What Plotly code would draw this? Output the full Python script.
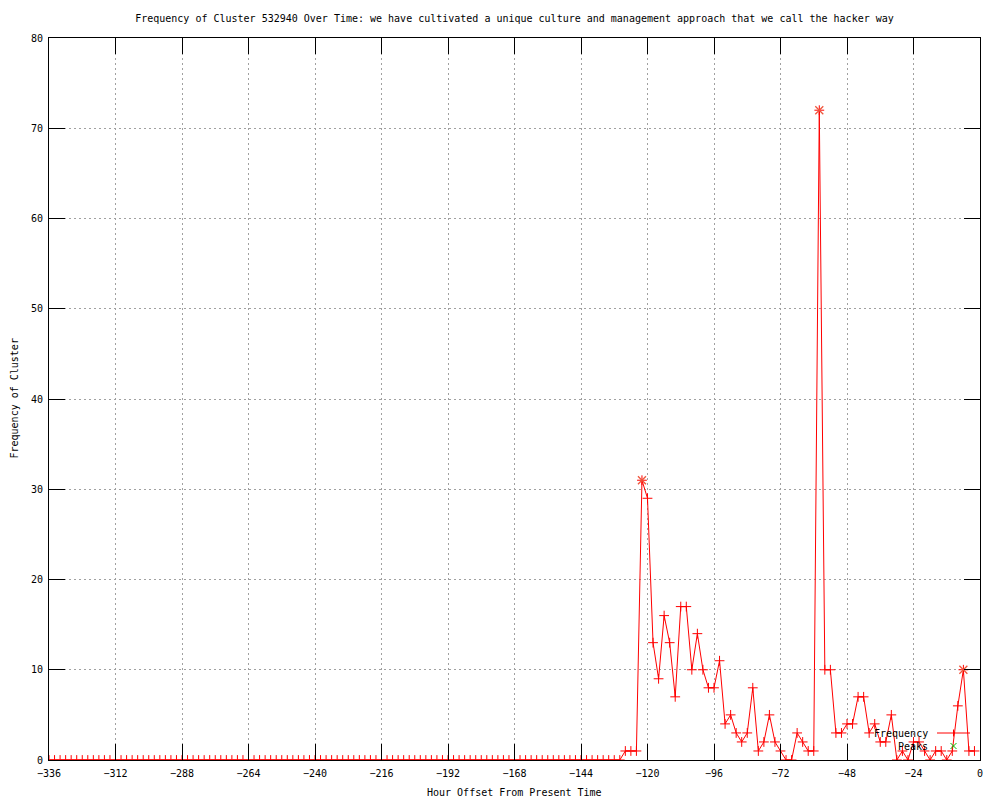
import plotly.graph_objects as go

# ---------------- data ----------------
hours = list(range(-336, 0, 2))  # hour offsets, one sample every 2 hours
frequency = [
    0, 0, 0, 0, 0, 0, 0, 0, 0, 0, 0, 0, 0, 0, 0, 0, 0, 0, 0, 0,
    0, 0, 0, 0, 0, 0, 0, 0, 0, 0, 0, 0, 0, 0, 0, 0, 0, 0, 0, 0,
    0, 0, 0, 0, 0, 0, 0, 0, 0, 0, 0, 0, 0, 0, 0, 0, 0, 0, 0, 0,
    0, 0, 0, 0, 0, 0, 0, 0, 0, 0, 0, 0, 0, 0, 0, 0, 0, 0, 0, 0,
    0, 0, 0, 0, 0, 0, 0, 0, 0, 0, 0, 0, 0, 0, 0, 0, 0, 0, 0, 0,
    0, 0, 0, 0,
    1, 1, 1, 31, 29, 13, 9, 16, 13, 7,
    17, 17, 10, 14, 10, 8, 8, 11, 4, 5,
    3, 2, 3, 8, 1, 2, 5, 2, 1, 0,
    0, 3, 2, 1, 1, 72, 10, 10, 3, 3,
    4, 4, 7, 7, 3, 4, 2, 2, 5, 0,
    1, 0, 2, 2, 1, 0, 1, 1, 0, 1,
    6, 10, 1, 1,
]
peak_hours = [-122, -58, -6]
peak_values = [31, 72, 10]

x_ticks = [-336, -312, -288, -264, -240, -216, -192, -168, -144, -120, -96, -72, -48, -24, 0]
y_ticks = [0, 10, 20, 30, 40, 50, 60, 70, 80]

title_text = ("Frequency of Cluster 532940 Over Time: we have cultivated a unique "
              "culture and management approach that we call the hacker way")
x_label = "Hour Offset From Present Time"
y_label = "Frequency of Cluster"

# ---------------- layout geometry ----------------
W, H = 1000, 800
L, R, T, B = 49, 980, 38, 760
FONT = "DejaVu Sans Mono"
RED = "#ff0000"
GREEN = "#00c000"


def px_x(px):
    return (px - L) / (R - L)


def px_y(py):
    return (B - py) / (B - T)


fig = go.Figure()

fig.add_trace(go.Scatter(
    x=hours, y=frequency, mode="lines+markers", name="Frequency",
    line=dict(color=RED, width=1),
    marker=dict(symbol="cross-thin-open", size=7, line=dict(color=RED, width=1)),
    showlegend=False,
))
fig.add_trace(go.Scatter(
    x=peak_hours, y=peak_values, mode="markers", name="Peaks",
    marker=dict(symbol="x-thin-open", size=8, line=dict(color=GREEN, width=1.3)),
    showlegend=False,
))

axis_common = dict(
    showline=True, linecolor="black", linewidth=1, mirror="ticks",
    ticks="inside", ticklen=16, tickcolor="black", tickwidth=1,
    showgrid=True, gridcolor="#a0a0a0", gridwidth=1, griddash="2px,3px",
    zeroline=False,
    tickfont=dict(family=FONT, size=10, color="black"),
)

fig.update_xaxes(range=[-336, 0], tickvals=x_ticks, ticklabelstandoff=4, **axis_common)
fig.update_yaxes(range=[0, 80], tickvals=y_ticks, ticklabelstandoff=3, **axis_common)

annotations = [
    dict(text=x_label, x=0.5, y=px_y(793), xref="paper", yref="paper",
         showarrow=False, xanchor="center", yanchor="middle",
         font=dict(family=FONT, size=10, color="black")),
    dict(text=y_label, x=px_x(13.5), y=0.5, xref="paper", yref="paper",
         showarrow=False, xanchor="center", yanchor="middle", textangle=-90,
         font=dict(family=FONT, size=10, color="black")),
    # manual gnuplot-style key
    dict(text="Frequency", x=px_x(930), y=px_y(733), xref="paper", yref="paper",
         showarrow=False, xanchor="right", yanchor="middle",
         font=dict(family=FONT, size=10, color="black")),
    dict(text="Peaks", x=px_x(930), y=px_y(746.5), xref="paper", yref="paper",
         showarrow=False, xanchor="right", yanchor="middle",
         font=dict(family=FONT, size=10, color="black")),
]

shapes = [
    dict(type="line", xref="paper", yref="paper",
         x0=px_x(937), x1=px_x(970), y0=px_y(733), y1=px_y(733),
         line=dict(color=RED, width=1)),
    dict(type="line", xref="paper", yref="paper",
         x0=px_x(953.5), x1=px_x(953.5), y0=px_y(729.5), y1=px_y(736.5),
         line=dict(color=RED, width=1)),
    dict(type="line", xref="paper", yref="paper",
         x0=px_x(950.5), x1=px_x(956.5), y0=px_y(743), y1=px_y(749),
         line=dict(color=GREEN, width=1)),
    dict(type="line", xref="paper", yref="paper",
         x0=px_x(950.5), x1=px_x(956.5), y0=px_y(749), y1=px_y(743),
         line=dict(color=GREEN, width=1)),
]

fig.update_layout(
    width=W, height=H,
    margin=dict(l=L, r=W - R, t=T, b=H - B, autoexpand=False),
    paper_bgcolor="white", plot_bgcolor="white",
    title=dict(text=title_text, x=(L + R) / 2 / W, xanchor="center",
               y=1 - 18 / H, yanchor="middle", yref="container",
               font=dict(family=FONT, size=10, color="black")),
    annotations=annotations,
    shapes=shapes,
    showlegend=False,
)

fig.write_html(
    "out.html",
    config={"displayModeBar": False},
    post_script="document.body.style.margin='0';document.body.style.overflow='hidden';",
)
